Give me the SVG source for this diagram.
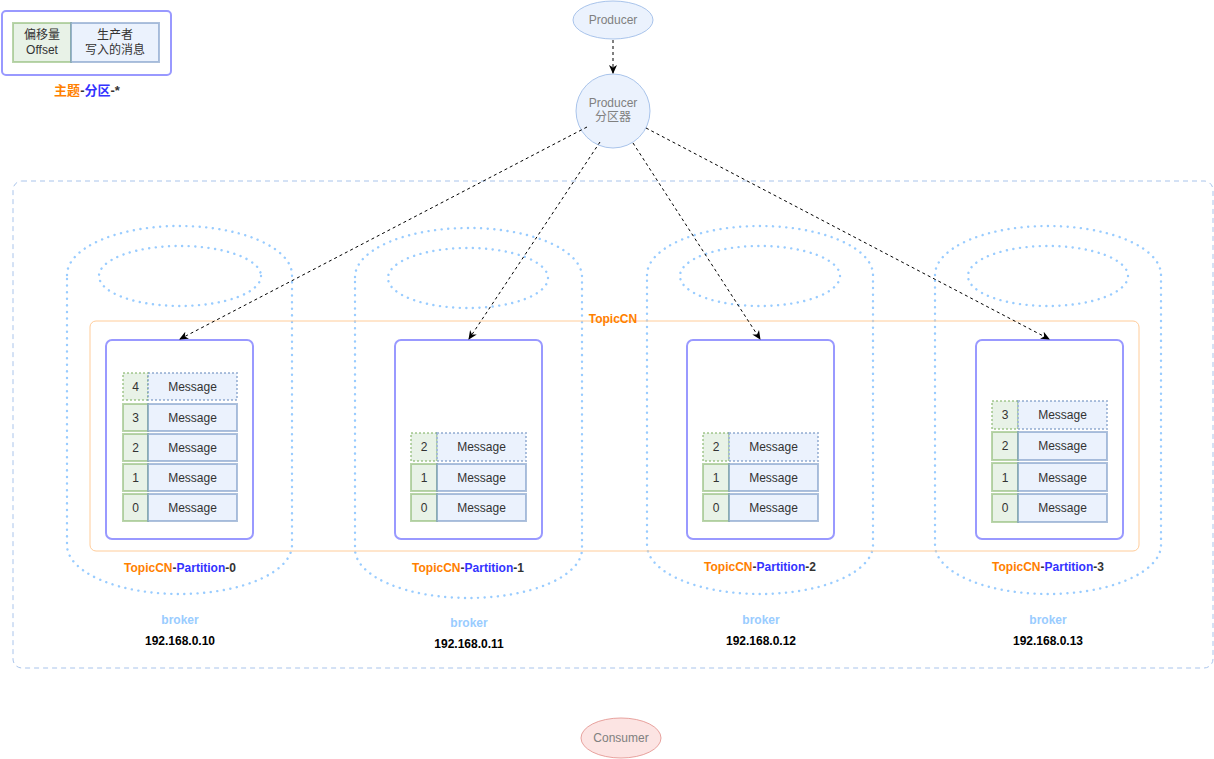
<svg xmlns="http://www.w3.org/2000/svg" width="1214" height="759" viewBox="0 0 1214 759">
<defs>
<marker id="ah" markerWidth="10" markerHeight="10" refX="8" refY="5" orient="auto" markerUnits="userSpaceOnUse">
<path d="M0,1 L9,5 L0,9 L2.5,5 Z" fill="#000"/>
</marker>
<style>
text{font-family:"Liberation Sans",Arial,"Noto Sans CJK SC",sans-serif;}
.cyl{fill:none;stroke:#99CCFF;stroke-width:2.4;stroke-dasharray:0.1 6.5;stroke-linecap:round;}
.part{fill:#fff;stroke:#9999FF;stroke-width:2;}
.off{fill:#d5e8d4;fill-opacity:0.55;stroke:#82b366;stroke-opacity:0.55;stroke-width:2;}
.msg{fill:#dae8fc;fill-opacity:0.55;stroke:#6c8ebf;stroke-opacity:0.55;stroke-width:2;}
.dot{stroke-dasharray:2 2;}
.ct{font-size:12px;fill:#333;text-anchor:middle;}
.lbl{font-size:12px;font-weight:bold;text-anchor:middle;}
.or{fill:#FF8000;}
.bl{fill:#3333FF;}
.bk{fill:#000;}
.dk{fill:#333;}
.brk{font-size:12px;font-weight:bold;fill:#99CCFF;text-anchor:middle;}
.ip{font-size:12px;font-weight:bold;fill:#000;text-anchor:middle;}
.conn{fill:none;stroke:#000;stroke-width:1;stroke-dasharray:3 3;marker-end:url(#ah);}
.gt{font-size:12px;fill:#808080;text-anchor:middle;}
</style>
</defs>
<rect width="1214" height="759" fill="#fff"/>

<g id="legend">
<rect x="2" y="11" width="169" height="64" rx="4" fill="#fff" stroke="#9999FF" stroke-width="2"/>
<rect x="13" y="23" width="58" height="39" class="off"/>
<rect x="71" y="23" width="88" height="39" class="msg"/>
<text x="42" y="39" class="ct">偏移量</text>
<text x="42" y="54" class="ct">Offset</text>
<text x="115" y="39" class="ct">生产者</text>
<text x="115" y="54" class="ct">写入的消息</text>
<text x="87" y="95" class="lbl" style="font-size:13px"><tspan class="or">主题</tspan><tspan class="dk">-</tspan><tspan class="bl">分区</tspan><tspan class="dk">-*</tspan></text>
</g>

<g id="cluster">
<rect x="13" y="181" width="1200" height="487" rx="9" fill="none" stroke="#A9C4EB" stroke-width="1" stroke-dasharray="5 4"/>
</g>

<g id="broker0">
<path class="cyl" d="M67,275 A112.5,49 0 0 1 292,275 L292,545 A112.5,49 0 0 1 67,545 Z"/>
<ellipse class="cyl" cx="180" cy="276" rx="81" ry="30"/>
<text x="180" y="624" class="brk">broker</text>
<text x="180" y="645" class="ip">192.168.0.10</text>
</g>
<g id="broker1">
<path class="cyl" d="M355,277 A113.5,49 0 0 1 582,277 L582,549 A113.5,49 0 0 1 355,549 Z"/>
<ellipse class="cyl" cx="468" cy="278" rx="80" ry="30"/>
<text x="469" y="627" class="brk">broker</text>
<text x="469" y="648" class="ip">192.168.0.11</text>
</g>
<g id="broker2">
<path class="cyl" d="M647,275 A113,49 0 0 1 873,275 L873,545 A113,49 0 0 1 647,545 Z"/>
<ellipse class="cyl" cx="760" cy="276" rx="80" ry="30"/>
<text x="761" y="624" class="brk">broker</text>
<text x="761" y="645" class="ip">192.168.0.12</text>
</g>
<g id="broker3">
<path class="cyl" d="M935,275 A113,49 0 0 1 1161,275 L1161,545 A113,49 0 0 1 935,545 Z"/>
<ellipse class="cyl" cx="1048" cy="276" rx="80" ry="30"/>
<text x="1048" y="624" class="brk">broker</text>
<text x="1048" y="645" class="ip">192.168.0.13</text>
</g>

<g id="topic">
<rect x="90" y="321" width="1049" height="230" rx="6" fill="none" stroke="#FFCC99" stroke-width="1"/>
<text x="613" y="323" class="lbl or">TopicCN</text>
</g>

<g id="partition0">
<rect x="106" y="340" width="147" height="199" rx="6" class="part"/>
<rect x="123" y="373" width="25" height="27" class="off dot"/><rect x="148" y="373" width="89" height="27" class="msg dot"/>
<text x="135.5" y="390.5" class="ct">4</text><text x="192.5" y="390.5" class="ct">Message</text>
<rect x="123" y="404" width="25" height="27" class="off"/><rect x="148" y="404" width="89" height="27" class="msg"/>
<text x="135.5" y="421.5" class="ct">3</text><text x="192.5" y="421.5" class="ct">Message</text>
<rect x="123" y="434" width="25" height="27" class="off"/><rect x="148" y="434" width="89" height="27" class="msg"/>
<text x="135.5" y="451.5" class="ct">2</text><text x="192.5" y="451.5" class="ct">Message</text>
<rect x="123" y="464" width="25" height="27" class="off"/><rect x="148" y="464" width="89" height="27" class="msg"/>
<text x="135.5" y="481.5" class="ct">1</text><text x="192.5" y="481.5" class="ct">Message</text>
<rect x="123" y="494" width="25" height="27" class="off"/><rect x="148" y="494" width="89" height="27" class="msg"/>
<text x="135.5" y="511.5" class="ct">0</text><text x="192.5" y="511.5" class="ct">Message</text>
<text x="180" y="572" class="lbl"><tspan class="or">TopicCN</tspan><tspan class="dk">-</tspan><tspan class="bl">Partition</tspan><tspan class="dk">-0</tspan></text>
</g>

<g id="partition1">
<rect x="395" y="340" width="147" height="199" rx="6" class="part"/>
<rect x="411" y="433" width="26" height="28" class="off dot"/><rect x="437" y="433" width="89" height="28" class="msg dot"/>
<text x="424" y="451" class="ct">2</text><text x="481.5" y="451" class="ct">Message</text>
<rect x="411" y="464" width="26" height="27" class="off"/><rect x="437" y="464" width="89" height="27" class="msg"/>
<text x="424" y="481.5" class="ct">1</text><text x="481.5" y="481.5" class="ct">Message</text>
<rect x="411" y="494" width="26" height="27" class="off"/><rect x="437" y="494" width="89" height="27" class="msg"/>
<text x="424" y="511.5" class="ct">0</text><text x="481.5" y="511.5" class="ct">Message</text>
<text x="468" y="572" class="lbl"><tspan class="or">TopicCN</tspan><tspan class="dk">-</tspan><tspan class="bl">Partition</tspan><tspan class="dk">-1</tspan></text>
</g>

<g id="partition2">
<rect x="687" y="340" width="147" height="199" rx="6" class="part"/>
<rect x="703" y="433" width="26" height="28" class="off dot"/><rect x="729" y="433" width="89" height="28" class="msg dot"/>
<text x="716" y="451" class="ct">2</text><text x="773.5" y="451" class="ct">Message</text>
<rect x="703" y="464" width="26" height="27" class="off"/><rect x="729" y="464" width="89" height="27" class="msg"/>
<text x="716" y="481.5" class="ct">1</text><text x="773.5" y="481.5" class="ct">Message</text>
<rect x="703" y="494" width="26" height="27" class="off"/><rect x="729" y="494" width="89" height="27" class="msg"/>
<text x="716" y="511.5" class="ct">0</text><text x="773.5" y="511.5" class="ct">Message</text>
<text x="760" y="571" class="lbl"><tspan class="or">TopicCN</tspan><tspan class="dk">-</tspan><tspan class="bl">Partition</tspan><tspan class="dk">-2</tspan></text>
</g>

<g id="partition3">
<rect x="976" y="340" width="147" height="199" rx="6" class="part"/>
<rect x="992" y="401" width="26" height="28" class="off dot"/><rect x="1018" y="401" width="89" height="28" class="msg dot"/>
<text x="1005" y="419" class="ct">3</text><text x="1062.5" y="419" class="ct">Message</text>
<rect x="992" y="432" width="26" height="28" class="off"/><rect x="1018" y="432" width="89" height="28" class="msg"/>
<text x="1005" y="450" class="ct">2</text><text x="1062.5" y="450" class="ct">Message</text>
<rect x="992" y="463" width="26" height="28" class="off"/><rect x="1018" y="463" width="89" height="28" class="msg"/>
<text x="1005" y="481.5" class="ct">1</text><text x="1062.5" y="481.5" class="ct">Message</text>
<rect x="992" y="494" width="26" height="28" class="off"/><rect x="1018" y="494" width="89" height="28" class="msg"/>
<text x="1005" y="512" class="ct">0</text><text x="1062.5" y="512" class="ct">Message</text>
<text x="1048" y="571" class="lbl"><tspan class="or">TopicCN</tspan><tspan class="dk">-</tspan><tspan class="bl">Partition</tspan><tspan class="dk">-3</tspan></text>
</g>

<g id="producer">
<ellipse cx="613" cy="20" rx="40" ry="19" fill="#EBF2FD" stroke="#A9C4EB" stroke-width="1"/>
<text x="613" y="24" class="gt">Producer</text>
</g>
<g id="partitioner">
<circle cx="613" cy="111" r="37" fill="#EBF2FD" stroke="#A9C4EB" stroke-width="1"/>
<text x="613" y="107" class="gt">Producer</text>
<text x="613" y="121" class="gt">分区器</text>
</g>
<g id="consumer">
<ellipse cx="621" cy="738" rx="40" ry="20" fill="#FCE4E3" stroke="#E8A29E" stroke-width="1"/>
<text x="621" y="742" class="gt">Consumer</text>
</g>

<g id="connectors">
<path class="conn" d="M613,40 L613,73"/>
<path class="conn" d="M587,127 L180,339"/>
<path class="conn" d="M600,142 L469,339"/>
<path class="conn" d="M633,143 L760,339"/>
<path class="conn" d="M646,128 L1049,339"/>
</g>
</svg>
